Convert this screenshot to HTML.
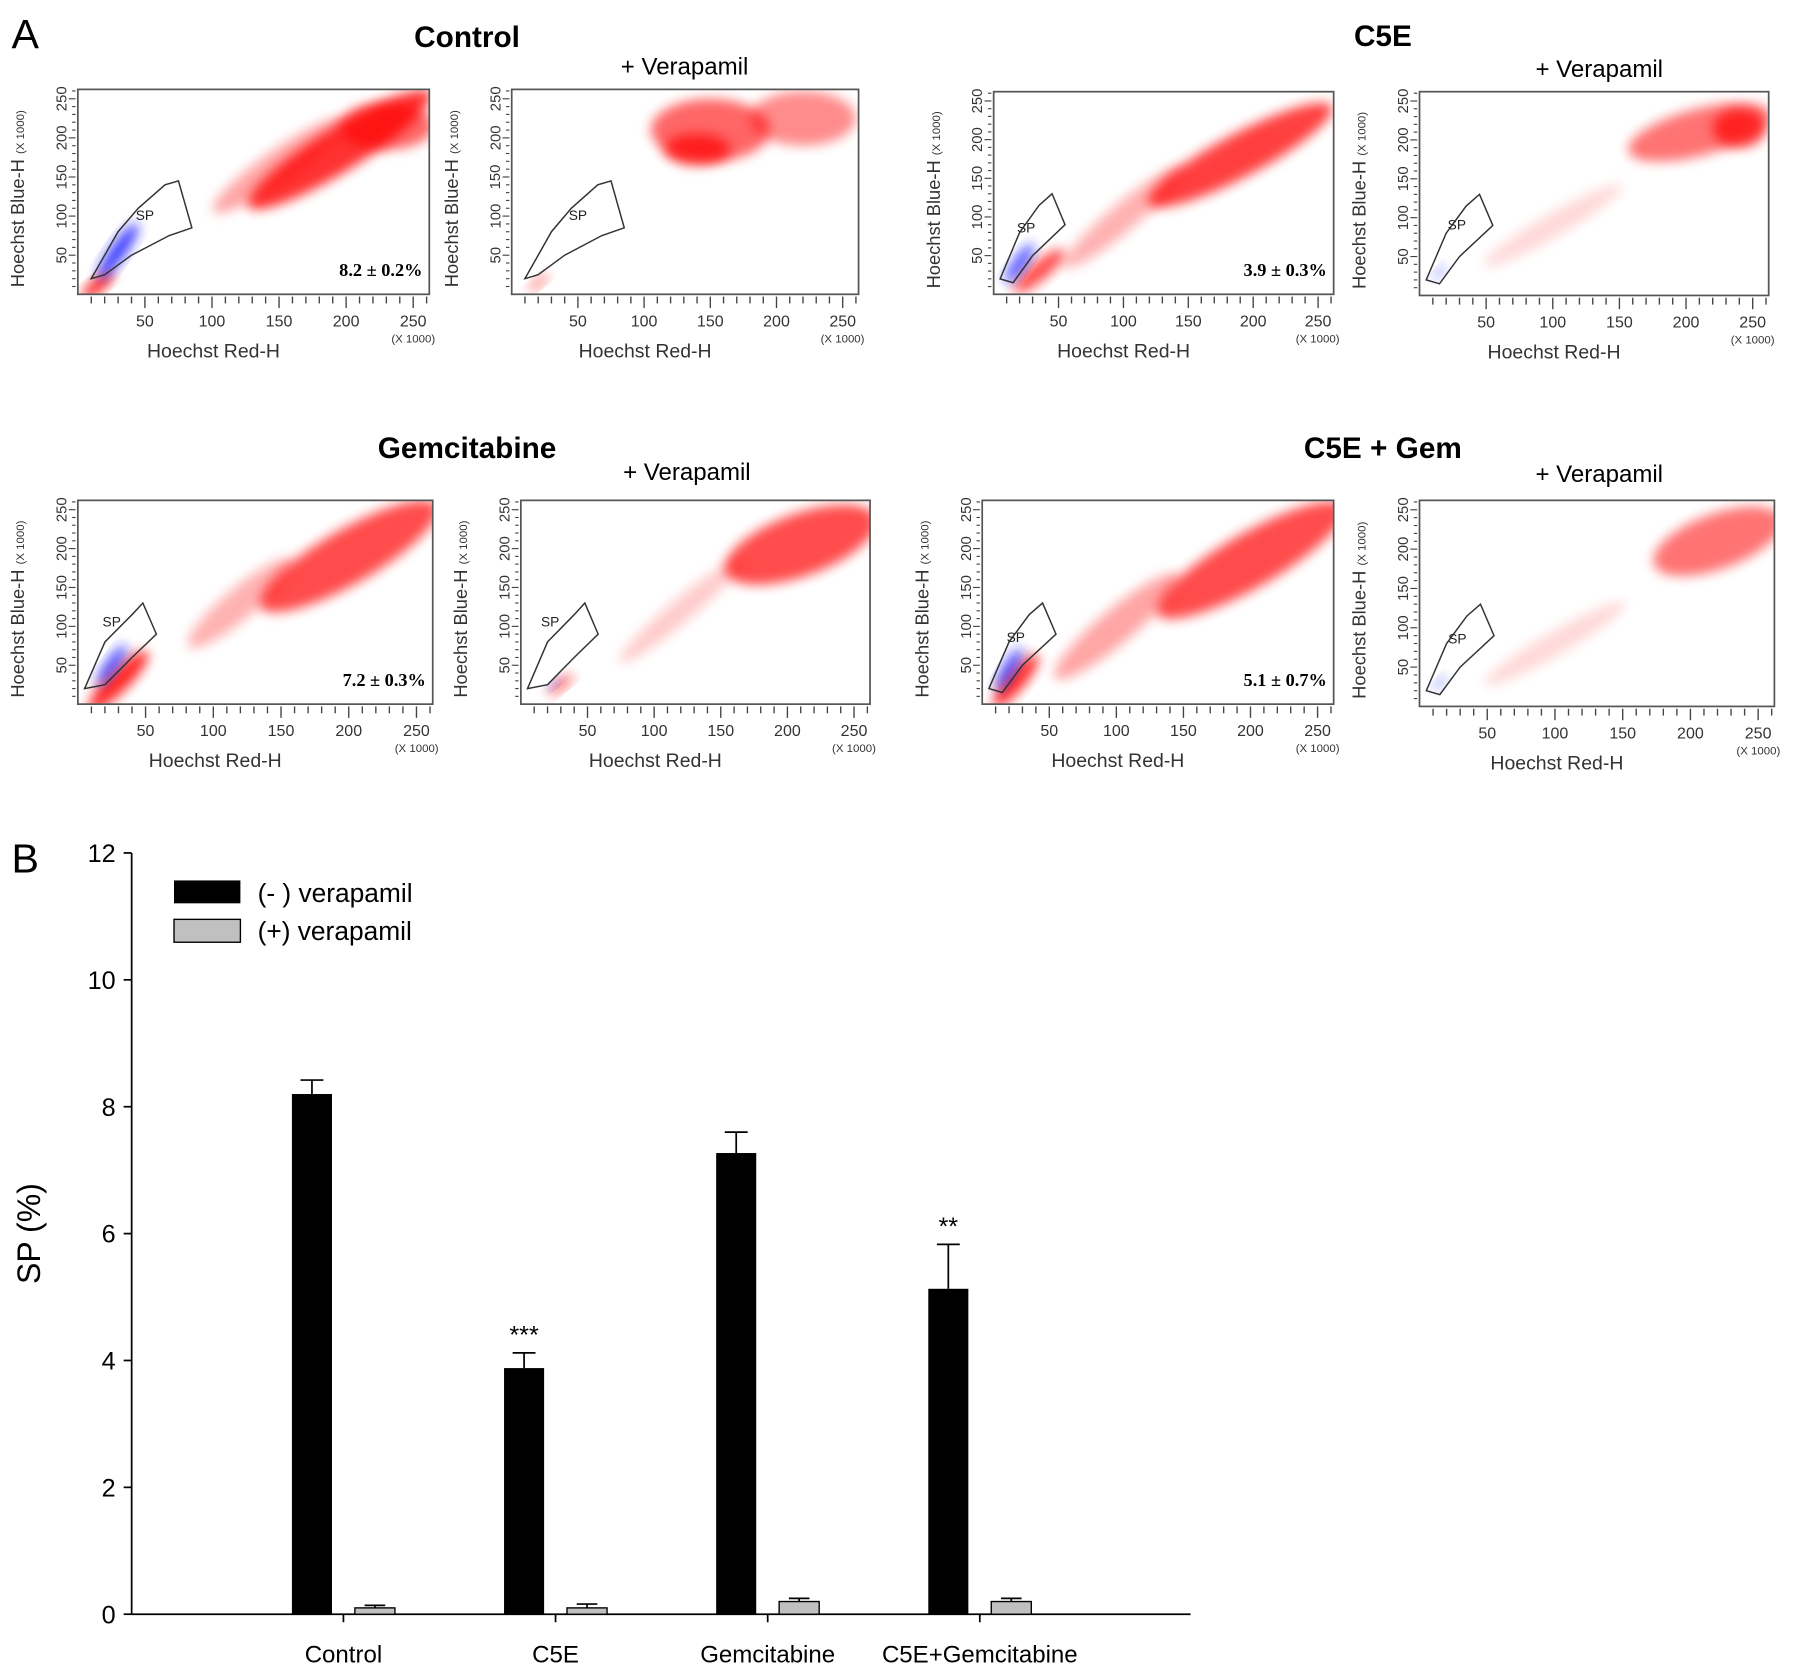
<!DOCTYPE html>
<html><head><meta charset="utf-8"><style>
html,body{margin:0;padding:0;background:#fff}
svg{display:block}
text{font-family:"Liberation Sans",sans-serif}
</style></head><body>
<svg id="fig" width="1795" height="1675" viewBox="0 0 1568 1463" xmlns="http://www.w3.org/2000/svg">
<defs><filter id="blur" x="-50%" y="-50%" width="200%" height="200%"><feGaussianBlur stdDeviation="5"/></filter></defs>
<text x="10" y="42" font-size="36">A</text>
<text x="10" y="762" font-size="36">B</text>
<g id="scatters"></g>
<g id="bars"></g>
</svg>
<script>
const NS='http://www.w3.org/2000/svg';
function mk(tag,attrs,parent,txt){const e=document.createElementNS(NS,tag);for(const k in attrs)e.setAttribute(k,attrs[k]);if(txt!==undefined)e.textContent=txt;parent.appendChild(e);return e;}

// ---- Panel A scatter plots ----
const scatterTitles=['Control','C5E','Gemcitabine','C5E + Gem'];
const scatterPercents=['8.2 ± 0.2%','3.9 ± 0.3%','7.2 ± 0.3%','5.1 ± 0.7%'];
const panelFrames=[[68,78,307,179],[447,78,303,179],[868,80,297,177],[1240,80,305,178],[68,437,310,178],[455,437,305,178],[858,437,307,178],[1240,437,310,180]];
const titlePos=[[408,33],[1208,32],[408,392],[1208,392]];
const verPos=[[598,58],[1397,60],[600,412],[1397,414]];
const redClouds=[
 [[195,185,80,28,-32,.8],[150,165,60,20,-35,.35],[230,215,35,30,0,.6],[15,12,15,8,-40,.9]],
 [[150,210,45,40,0,.6],[220,225,40,35,0,.45],[140,185,25,20,0,.7],[20,15,10,5,-40,.5]],
 [[190,180,80,28,-28,.75],[100,100,60,18,-40,.3],[35,30,25,12,-40,.7]],
 [[210,210,55,30,-15,.55],[240,215,20,25,0,.7],[100,90,60,15,-30,.15]],
 [[200,190,75,35,-30,.7],[120,130,50,20,-40,.3],[30,30,30,14,-45,.85]],
 [[210,205,60,40,-20,.7],[120,120,60,15,-40,.2],[30,25,12,6,-40,.6]],
 [[200,185,80,35,-30,.7],[100,100,60,22,-40,.35],[25,30,25,12,-50,.85]],
 [[220,210,50,35,-20,.55],[100,80,60,15,-30,.15]]];
const blueClouds=[[30,55,25,10,-55,.85],null,[20,40,18,8,-55,.8],[15,30,6,4,-50,.5],[25,50,18,8,-55,.8],[25,25,6,3,-40,.6],[20,45,18,8,-60,.8],[15,30,6,4,-50,.5]];
const gateA=[[10,20],[30,80],[45,110],[65,140],[75,145],[85,85],[68,75],[40,50],[20,25]];
const gateB=[[5,20],[20,80],[35,115],[45,130],[55,90],[30,50],[15,15]];
const gateC=[[5,20],[20,80],[40,115],[48,130],[58,90],[40,60],[20,25]];
const gates=[gateA,gateA,gateB,gateB,gateC,gateC,gateB,gateB];
const gateLabel=[[50,95],[50,95],[25,80],[28,85],[25,100],[22,100],[25,80],[28,80]];
const axTicks=[50,100,150,200,250];

const sc=document.getElementById('scatters');
scatterTitles.forEach((t,i)=>{
 const tt=mk('text',{x:titlePos[i][0],y:titlePos[i][1]+8,'font-size':26,'font-weight':'bold','text-anchor':'middle'},sc,t);
 
 const vt=mk('text',{x:verPos[i][0],y:verPos[i][1]+7,'font-size':21,'text-anchor':'middle'},sc,'+ Verapamil');
 
});
panelFrames.forEach((f,p)=>{
 const [x0,y0,w,h]=f;
 const g=mk('g',{},sc);
 
 
 const X=v=>x0+v/262*w, Y=v=>y0+h-v/262*h;
 const clip='clip'+p;
 const cp=mk('clipPath',{id:clip},g);mk('rect',{x:x0,y:y0,width:w,height:h},cp);
 const cg=mk('g',{'clip-path':'url(#'+clip+')'},g);
 const draw=(c,col)=>{const [cx,cy,rx,ry,a,o]=c;const e=mk('ellipse',{cx:X(cx),cy:Y(cy),rx:rx/262*w,ry:ry/262*h,fill:col,opacity:o,filter:'url(#blur)',transform:`rotate(${a} ${X(cx)} ${Y(cy)})`},cg);};
 redClouds[p].forEach(c=>draw(c,'#f00'));
 if(blueClouds[p])draw(blueClouds[p],'#1a1aff');
 const gp=mk('polygon',{points:gates[p].map(q=>X(q[0])+','+Y(q[1])).join(' '),fill:'none',stroke:'#333','stroke-width':1.3},g);
 
 mk('text',{x:X(gateLabel[p][0]),y:Y(gateLabel[p][1]),'font-size':12,'text-anchor':'middle',fill:'#222'},g,'SP');
 const fr=mk('rect',{x:x0,y:y0,width:w,height:h,fill:'none',stroke:'#555','stroke-width':1.5},g);
 
 for(let v=10;v<=260;v+=10){
  const big=v%50===0;
  mk('line',{x1:X(v),x2:X(v),y1:y0+h+2,y2:y0+h+(big?12:8),stroke:'#444','stroke-width':1.2},g);
  mk('line',{x1:x0-2,x2:x0-(big?8:5),y1:Y(v),y2:Y(v),stroke:'#444','stroke-width':1},g);
 }
 axTicks.forEach(v=>{
  mk('text',{x:X(v),y:y0+h+28,'font-size':14,'text-anchor':'middle',fill:'#333'},g,String(v));
  mk('text',{x:x0-14,y:Y(v),'font-size':13,'text-anchor':'middle',fill:'#333',transform:`rotate(-90 ${x0-14} ${Y(v)})`,dy:4},g,String(v));
 });
 mk('text',{x:x0+w-14,y:y0+h+42,'font-size':10,'text-anchor':'middle',fill:'#333'},g,'(X 1000)');
 const xl=mk('text',{x:x0+w/2-35,y:y0+h+55,'font-size':17,'text-anchor':'middle',fill:'#333'},g,'Hoechst Red-H');
 
 const yl=mk('text',{x:x0-47,y:y0+h/2+6,'font-size':16,'text-anchor':'middle',fill:'#333',transform:`rotate(-90 ${x0-47} ${y0+h/2+6})`},g);
 
 yl.textContent='Hoechst Blue-H ';
 const s=mk('tspan',{'font-size':10},yl,'(X 1000)');
 if(p%2===0){
  const pt=mk('text',{x:x0+w-6,y:y0+h-16,'font-size':16,'font-weight':'bold','text-anchor':'end','font-family':'Liberation Serif, serif',style:'font-family:"Liberation Serif",serif'},g,scatterPercents[p/2]);
  
 }
});

// ---- Panel B bar chart ----
const categories=['Control','C5E','Gemcitabine','C5E+Gemcitabine'];
const minusVals=[8.2,3.88,7.27,5.13];
const minusErr=[0.22,0.24,0.33,0.7];
const plusVals=[0.1,0.1,0.2,0.2];
const plusErr=[0.04,0.06,0.05,0.05];
const yTicks=[0,2,4,6,8,10,12];
const sigLabels=['','***','','**'];

const bg=document.getElementById('bars');
const AX=115, AY0=1410, AY1=745, XEND=1040;
const yS=v=>AY0-(v/12)*(AY0-AY1);
const xS=i=>300+i*185.3;
const bw=35;
const yax=mk('line',{x1:AX,x2:AX,y1:AY1,y2:AY0,stroke:'#000','stroke-width':1.5},bg);

const xax=mk('line',{x1:AX,x2:XEND,y1:AY0,y2:AY0,stroke:'#000','stroke-width':1.5},bg);

yTicks.forEach(v=>{
 mk('line',{x1:AX-7,x2:AX,y1:yS(v),y2:yS(v),stroke:'#000','stroke-width':1.5},bg);
 const t=mk('text',{x:AX-14,y:yS(v)+8,'font-size':22,'text-anchor':'end'},bg,String(v));
 
});
const yt=mk('text',{x:35,y:(AY0+AY1)/2,'font-size':28,'text-anchor':'middle',transform:`rotate(-90 35 ${(AY0+AY1)/2})`},bg,'SP (%)');

categories.forEach((c,i)=>{
 const cx=xS(i);
 mk('line',{x1:cx,x2:cx,y1:AY0,y2:AY0+7,stroke:'#000','stroke-width':1.5},bg);
 const ct=mk('text',{x:cx,y:AY0+42,'font-size':21,'text-anchor':'middle'},bg,c);
 
 // minus bar
 const bx=cx-45;
 const et=yS(minusVals[i]+minusErr[i]);
 mk('line',{x1:bx+bw/2,x2:bx+bw/2,y1:yS(minusVals[i]),y2:et,stroke:'#000','stroke-width':1.5},bg);
 mk('line',{x1:bx+bw/2-10,x2:bx+bw/2+10,y1:et,y2:et,stroke:'#000','stroke-width':1.5},bg);
 const b=mk('rect',{x:bx,y:yS(minusVals[i]),width:bw,height:AY0-yS(minusVals[i]),fill:'#000'},bg);
 
 if(sigLabels[i]){const s=mk('text',{x:bx+bw/2,y:et-8,'font-size':22,'text-anchor':'middle'},bg,sigLabels[i]);}
 // plus bar
 const px=cx+10;
 const pt=yS(plusVals[i]+plusErr[i]);
 mk('line',{x1:px+bw/2,x2:px+bw/2,y1:yS(plusVals[i]),y2:pt,stroke:'#000','stroke-width':1.5},bg);
 mk('line',{x1:px+bw/2-9,x2:px+bw/2+9,y1:pt,y2:pt,stroke:'#000','stroke-width':1.5},bg);
 const p=mk('rect',{x:px,y:yS(plusVals[i]),width:bw,height:AY0-yS(plusVals[i]),fill:'#c0c0c0',stroke:'#000','stroke-width':1.2},bg);
 
});
const l1=mk('rect',{x:152,y:769,width:58,height:20,fill:'#000'},bg);

const lt1=mk('text',{x:225,y:788,'font-size':23},bg,'(- ) verapamil');

const l2=mk('rect',{x:152,y:803,width:58,height:20,fill:'#c0c0c0',stroke:'#000','stroke-width':1.2},bg);

const lt2=mk('text',{x:225,y:821,'font-size':23},bg,'(+) verapamil');

</script>
</body></html>
